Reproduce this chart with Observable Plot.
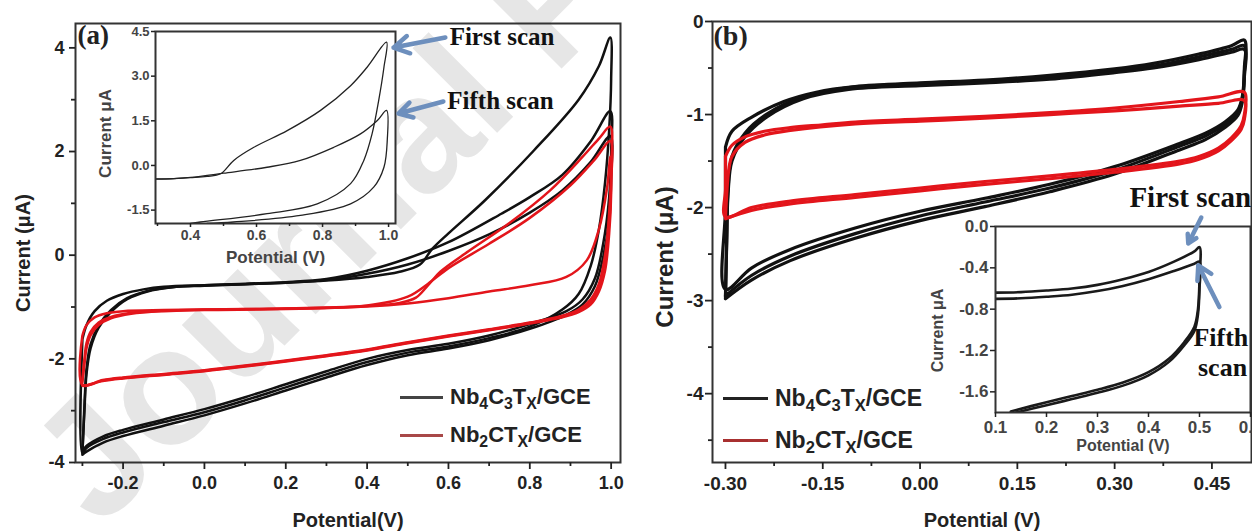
<!DOCTYPE html>
<html><head><meta charset="utf-8">
<script src="https://cdn.jsdelivr.net/npm/d3@7"></script>
<script src="https://cdn.jsdelivr.net/npm/@observablehq/plot@0.6"></script>
<style>
body{margin:0;background:#fff;}
#wrap{position:relative;width:1252px;height:532px;overflow:hidden;background:#fff;font-family:Arial,"Liberation Sans",Helvetica,sans-serif;}
#wrap svg{position:absolute;background:transparent;overflow:visible;max-width:none;}
.leg{position:absolute;display:flex;align-items:center;height:28px;font-weight:bold;color:#222;white-space:nowrap;}
.leg .sw{display:inline-block;height:3px;margin-right:7px;}
.leg sub{font-size:72%;vertical-align:-0.3em;line-height:0;}
</style></head>
<body><div id="wrap"></div>
<script>
// ---------- data: panel (a) main, potential (V) vs current (µA) ----------
const blackA_scan1 = [[-0.30,-1.62],[-0.29,-1.35],[-0.27,-1.08],[-0.24,-0.88],[-0.20,-0.75],[-0.15,-0.66],[-0.10,-0.61],[0.00,-0.58],[0.10,-0.56],[0.20,-0.53],[0.30,-0.49],[0.40,-0.42],[0.48,-0.32],[0.53,-0.18],[0.56,0.12],[0.60,0.42],[0.69,1.06],[0.81,2.02],[0.92,3.00],[0.97,3.65],[0.998,4.20],[1.00,3.40],[0.995,2.40],[0.985,1.40],[0.97,0.50],[0.95,-0.20],[0.92,-0.75],[0.88,-1.05],[0.80,-1.38],[0.70,-1.60],[0.60,-1.76],[0.50,-1.88],[0.40,-2.06],[0.30,-2.30],[0.20,-2.55],[0.10,-2.80],[0.00,-3.03],[-0.10,-3.22],[-0.20,-3.42],[-0.25,-3.55],[-0.29,-3.72],[-0.30,-3.82],[-0.30,-1.62]];
const blackA_scan2 = [[-0.30,-3.78],[-0.295,-3.00],[-0.29,-2.30],[-0.28,-1.80],[-0.26,-1.40],[-0.23,-1.10],[-0.19,-0.85],[-0.14,-0.70],[-0.08,-0.62],[0.00,-0.58],[0.10,-0.55],[0.20,-0.52],[0.30,-0.46],[0.40,-0.30],[0.50,-0.06],[0.60,0.25],[0.73,0.80],[0.80,1.12],[0.88,1.55],[0.95,2.20],[0.998,2.78],[1.00,2.00],[0.995,1.10],[0.98,0.20],[0.96,-0.45],[0.93,-0.85],[0.89,-1.08],[0.80,-1.33],[0.70,-1.55],[0.60,-1.71],[0.50,-1.83],[0.40,-2.00],[0.30,-2.24],[0.20,-2.49],[0.10,-2.74],[0.00,-2.97],[-0.10,-3.17],[-0.20,-3.37],[-0.25,-3.50],[-0.29,-3.68],[-0.30,-3.78]];
const blackA_scan3 = [[-0.30,-3.85],[-0.295,-2.90],[-0.29,-2.20],[-0.28,-1.72],[-0.26,-1.36],[-0.23,-1.06],[-0.19,-0.83],[-0.14,-0.69],[-0.08,-0.62],[0.00,-0.59],[0.10,-0.56],[0.20,-0.53],[0.30,-0.48],[0.40,-0.36],[0.50,-0.18],[0.60,0.08],[0.70,0.40],[0.80,0.82],[0.88,1.25],[0.95,1.80],[0.998,2.30],[1.00,1.50],[0.995,0.70],[0.98,-0.05],[0.96,-0.60],[0.93,-0.95],[0.89,-1.15],[0.80,-1.42],[0.70,-1.64],[0.60,-1.80],[0.50,-1.93],[0.40,-2.12],[0.30,-2.36],[0.20,-2.61],[0.10,-2.86],[0.00,-3.09],[-0.10,-3.29],[-0.20,-3.49],[-0.25,-3.62],[-0.29,-3.79],[-0.30,-3.85]];
const redA_scan1 = [[-0.30,-1.55],[-0.29,-1.35],[-0.27,-1.20],[-0.24,-1.12],[-0.20,-1.08],[-0.10,-1.06],[0.00,-1.05],[0.10,-1.04],[0.20,-1.03],[0.30,-1.01],[0.40,-0.98],[0.48,-0.92],[0.52,-0.82],[0.55,-0.58],[0.58,-0.32],[0.65,0.08],[0.75,0.62],[0.85,1.25],[0.93,1.90],[0.97,2.25],[0.998,2.48],[1.00,1.70],[0.995,0.80],[0.985,0.00],[0.97,-0.55],[0.95,-0.85],[0.92,-1.05],[0.88,-1.17],[0.80,-1.30],[0.70,-1.43],[0.60,-1.55],[0.50,-1.68],[0.40,-1.82],[0.30,-1.93],[0.20,-2.03],[0.10,-2.13],[0.00,-2.22],[-0.10,-2.29],[-0.20,-2.36],[-0.25,-2.41],[-0.30,-2.50],[-0.30,-1.55]];
const redA_scan2 = [[-0.30,-2.45],[-0.295,-2.10],[-0.29,-1.80],[-0.28,-1.55],[-0.26,-1.35],[-0.23,-1.22],[-0.18,-1.13],[-0.10,-1.08],[0.00,-1.06],[0.20,-1.04],[0.40,-0.99],[0.50,-0.93],[0.60,-0.83],[0.70,-0.70],[0.80,-0.58],[0.89,-0.42],[0.94,-0.10],[0.97,0.50],[0.99,1.30],[0.998,1.90],[1.00,1.20],[0.995,0.40],[0.985,-0.30],[0.97,-0.70],[0.95,-0.95],[0.92,-1.10],[0.88,-1.20],[0.80,-1.32],[0.70,-1.45],[0.60,-1.57],[0.50,-1.70],[0.40,-1.84],[0.30,-1.95],[0.20,-2.05],[0.10,-2.15],[0.00,-2.24],[-0.10,-2.31],[-0.20,-2.38],[-0.25,-2.43],[-0.30,-2.52],[-0.30,-2.45]];
const redA_scan3 = [[-0.30,-2.40],[-0.295,-2.00],[-0.29,-1.70],[-0.28,-1.48],[-0.26,-1.30],[-0.23,-1.19],[-0.18,-1.11],[-0.10,-1.07],[0.00,-1.05],[0.20,-1.03],[0.40,-0.97],[0.50,-0.80],[0.55,-0.55],[0.60,-0.25],[0.70,0.22],[0.80,0.72],[0.90,1.35],[0.96,1.85],[0.998,2.20],[1.00,1.40],[0.995,0.60],[0.985,-0.10],[0.97,-0.62],[0.95,-0.90],[0.92,-1.07],[0.88,-1.18],[0.80,-1.31],[0.70,-1.44],[0.60,-1.56],[0.50,-1.69],[0.40,-1.83],[0.30,-1.94],[0.20,-2.04],[0.10,-2.14],[0.00,-2.23],[-0.10,-2.30],[-0.20,-2.37],[-0.25,-2.42],[-0.30,-2.51],[-0.30,-2.40]];

// ---------- data: panel (a) inset ----------
const insetA_first = [[0.294,-0.45],[0.35,-0.44],[0.40,-0.41],[0.45,-0.37],[0.491,-0.28],[0.531,0.17],[0.592,0.61],[0.693,1.17],[0.794,1.85],[0.885,2.68],[0.935,3.30],[0.994,4.14],[0.986,3.30],[0.97,2.18],[0.95,1.06],[0.925,0.17],[0.885,-0.61],[0.784,-1.29],[0.632,-1.62],[0.43,-1.90],[0.40,-1.95]];
const insetA_fifth = [[0.294,-0.46],[0.35,-0.44],[0.40,-0.40],[0.50,-0.26],[0.632,-0.06],[0.733,0.17],[0.834,0.61],[0.915,1.06],[0.966,1.51],[0.994,1.85],[0.996,0.84],[0.986,-0.06],[0.955,-0.73],[0.885,-1.29],[0.733,-1.68],[0.53,-1.90],[0.45,-1.95]];

// ---------- data: panel (b) main ----------
const blackB_scan1 = [[-0.30,-1.35],[-0.29,-1.18],[-0.26,-1.03],[-0.21,-0.86],[-0.16,-0.76],[-0.10,-0.70],[0.00,-0.66],[0.10,-0.63],[0.20,-0.58],[0.30,-0.51],[0.36,-0.45],[0.43,-0.35],[0.48,-0.26],[0.50,-0.20],[0.50,-0.50],[0.497,-0.80],[0.49,-0.95],[0.47,-1.08],[0.44,-1.20],[0.40,-1.31],[0.30,-1.56],[0.20,-1.75],[0.10,-1.90],[0.00,-2.04],[-0.10,-2.22],[-0.20,-2.45],[-0.26,-2.65],[-0.30,-2.88],[-0.30,-2.00],[-0.30,-1.35]];
const blackB_scan2 = [[-0.30,-2.95],[-0.298,-2.30],[-0.296,-1.80],[-0.29,-1.45],[-0.27,-1.20],[-0.235,-0.99],[-0.18,-0.81],[-0.11,-0.71],[0.00,-0.67],[0.10,-0.64],[0.20,-0.60],[0.30,-0.53],[0.36,-0.48],[0.43,-0.38],[0.48,-0.30],[0.50,-0.26],[0.50,-0.55],[0.497,-0.83],[0.49,-0.98],[0.47,-1.11],[0.44,-1.23],[0.40,-1.34],[0.30,-1.60],[0.20,-1.79],[0.10,-1.94],[0.00,-2.09],[-0.10,-2.28],[-0.20,-2.52],[-0.26,-2.73],[-0.30,-2.95]];
const blackB_scan3 = [[-0.30,-2.98],[-0.298,-2.35],[-0.296,-1.85],[-0.29,-1.50],[-0.27,-1.24],[-0.235,-1.02],[-0.18,-0.83],[-0.11,-0.73],[0.00,-0.69],[0.10,-0.66],[0.20,-0.62],[0.30,-0.55],[0.36,-0.50],[0.43,-0.41],[0.48,-0.33],[0.50,-0.30],[0.50,-0.60],[0.497,-0.86],[0.49,-1.01],[0.47,-1.14],[0.44,-1.27],[0.40,-1.38],[0.30,-1.64],[0.20,-1.83],[0.10,-1.99],[0.00,-2.14],[-0.10,-2.33],[-0.20,-2.57],[-0.26,-2.78],[-0.30,-2.98]];
const redB_scan1 = [[-0.30,-1.45],[-0.29,-1.33],[-0.27,-1.24],[-0.24,-1.18],[-0.20,-1.14],[-0.15,-1.11],[-0.10,-1.08],[0.00,-1.05],[0.10,-1.02],[0.20,-0.98],[0.30,-0.93],[0.40,-0.86],[0.46,-0.81],[0.50,-0.76],[0.50,-1.00],[0.495,-1.12],[0.48,-1.25],[0.46,-1.36],[0.43,-1.45],[0.40,-1.50],[0.30,-1.59],[0.20,-1.66],[0.10,-1.72],[0.00,-1.79],[-0.10,-1.86],[-0.20,-1.93],[-0.26,-2.00],[-0.30,-2.10],[-0.30,-1.80],[-0.30,-1.45]];
const redB_scan2 = [[-0.30,-2.12],[-0.298,-1.85],[-0.295,-1.60],[-0.29,-1.45],[-0.27,-1.30],[-0.24,-1.22],[-0.20,-1.17],[-0.10,-1.10],[0.00,-1.07],[0.10,-1.04],[0.20,-1.00],[0.30,-0.96],[0.40,-0.91],[0.46,-0.88],[0.50,-0.85],[0.50,-1.05],[0.495,-1.16],[0.48,-1.28],[0.46,-1.39],[0.43,-1.48],[0.40,-1.53],[0.30,-1.62],[0.20,-1.69],[0.10,-1.75],[0.00,-1.82],[-0.10,-1.89],[-0.20,-1.96],[-0.26,-2.03],[-0.30,-2.12]];

// ---------- data: panel (b) inset ----------
const insetB_first = [[0.10,-0.64],[0.15,-0.635],[0.20,-0.62],[0.25,-0.60],[0.30,-0.565],[0.35,-0.51],[0.40,-0.44],[0.45,-0.34],[0.49,-0.24],[0.50,-0.20],[0.50,-0.50],[0.497,-0.80],[0.49,-0.97],[0.47,-1.12],[0.44,-1.28],[0.40,-1.41],[0.35,-1.51],[0.30,-1.58],[0.25,-1.64],[0.20,-1.70],[0.13,-1.79]];
const insetB_fifth = [[0.10,-0.70],[0.15,-0.695],[0.20,-0.68],[0.25,-0.66],[0.30,-0.625],[0.35,-0.575],[0.40,-0.51],[0.45,-0.43],[0.49,-0.36],[0.50,-0.34],[0.50,-0.60],[0.497,-0.85],[0.49,-1.01],[0.47,-1.15],[0.44,-1.31],[0.40,-1.44],[0.35,-1.54],[0.30,-1.61],[0.25,-1.67],[0.20,-1.73],[0.14,-1.80]];

// ---------- ticks, labels, series ----------
const xMajA = [-0.2,0,0.2,0.4,0.6,0.8,1.0], xMinA = [-0.3,-0.1,0.1,0.3,0.5,0.7,0.9];
const yMajA = [-4,-2,0,2,4], yMinA = [-3,-1,1,3];
const xMajB = [-0.30,-0.15,0,0.15,0.30,0.45], xMinB = [-0.225,-0.075,0.075,0.225,0.375];
const yMajB = [0,-1,-2,-3,-4], yMinB = [-0.5,-1.5,-2.5,-3.5,-4.5];
const xTickInA = [0.4,0.6,0.8,1.0], xMinInA = [0.3,0.5,0.7,0.9], yTickInA = [-1.5,0,1.5,3,4.5];
const xTickInB = [0.1,0.2,0.3,0.4,0.5,0.6], yTickInB = [0,-0.4,-0.8,-1.2,-1.6];
const seriesNames = ["Nb<sub>4</sub>C<sub>3</sub>T<sub>X</sub>/GCE", "Nb<sub>2</sub>CT<sub>X</sub>/GCE"];
const notesA = [{x:1.185, y:4.315, t:"First scan"}, {x:1.178, y:2.18, t:"Fifth scan"}];
const arrowsA = [{x1:1.172, y1:4.30, x2:1.015, y2:3.96}, {x1:1.166, y1:2.15, x2:1.030, y2:1.745}];
const notesB_end = [{x:0.601, y:0.28, t:"First scan"}];
const notesB_start = [{x:0.488, y:-1.08, t:"Fifth"}, {x:0.497, y:-1.37, t:"scan"}];
const arrowsB = [{x1:0.5035, y1:0.087, x2:0.478, y2:-0.164}, {x1:0.539, y1:-0.78, x2:0.4976, y2:-0.376}];
const watermark = "Journal Pre-proof";

// ---------- drawing ----------
const FONT = "Arial, 'Liberation Sans', Helvetica, sans-serif";
const SERIF = "'Times New Roman', 'Liberation Serif', 'DejaVu Serif', serif";
const BLACK = "#111", RED = "#e3151b", AXIS = "#333", ARROW = "#6d8fbd";
const wrap = document.getElementById("wrap");
function place(svg, left, top){ svg.style.left = left+"px"; svg.style.top = top+"px"; wrap.appendChild(svg); }
const lines = (list, color, w, clip) => list.map(arr => Plot.line(arr, {x: d => d[0], y: d => d[1], stroke: color, strokeWidth: w, curve: "catmull-rom", clip: !!clip}));
const f1 = d => d.toFixed(1), f2 = d => d.toFixed(2), f0 = d => String(d);
const blank = () => "";

// faint diagonal watermark behind the charts
const wm = d3.create("svg").attr("width", 1252).attr("height", 532).style("left", "0px").style("top", "0px");
wm.append("text").attr("x", 100).attr("y", 530).attr("transform", "rotate(-45 100 530)")
  .attr("font-family", FONT).attr("font-weight", "bold").attr("font-size", 165).attr("fill", "#e6e6e6").text(watermark);
wrap.appendChild(wm.node());

// Panel (a)
const plotA = Plot.plot({
  width: 640, height: 532, marginLeft: 75, marginRight: 20, marginTop: 23, marginBottom: 70,
  x: {domain: [-0.317, 1.023]}, y: {domain: [-4, 4.47]},
  style: {fontFamily: FONT, fontSize: "18px", fontWeight: "bold", color: "#222", background: "transparent"},
  marks: [
    ...lines([blackA_scan1, blackA_scan2, blackA_scan3], BLACK, 2.5),
    ...lines([redA_scan1, redA_scan2, redA_scan3], RED, 2.5),
    Plot.frame({stroke: AXIS, strokeWidth: 2}),
    Plot.axisX(xMajA, {tickSize: 7, tickPadding: 7, tickFormat: f1, label: null, strokeWidth: 1.8, fontSize: 18, fontWeight: "bold"}),
    Plot.axisX(xMinA, {tickSize: 4, tickFormat: blank, label: null, strokeWidth: 1.8}),
    Plot.axisY(yMajA, {tickSize: 6, tickPadding: 5, tickFormat: f0, label: null, strokeWidth: 1.8, fontSize: 18, fontWeight: "bold"}),
    Plot.axisY(yMinA, {tickSize: 4, tickFormat: blank, label: null, strokeWidth: 1.8}),
    Plot.text(["Current (μA)"], {text: d => d, frameAnchor: "left", rotate: -90, dx: -52, dy: 10, fontSize: 20, fontWeight: "bold", textAnchor: "middle", lineAnchor: "middle"}),
    Plot.text(["Potential(V)"], {text: d => d, frameAnchor: "bottom", dy: 58, fontSize: 20, fontWeight: "bold", textAnchor: "middle", lineAnchor: "middle"}),
    Plot.text(["(a)"], {text: d => d, frameAnchor: "top-left", dx: 2, dy: 1, fontSize: 27, fontWeight: "bold", fontFamily: SERIF, textAnchor: "start", lineAnchor: "top"})
  ]
});
place(plotA, 0, 0);

// Panel (a) inset
const insetA = Plot.plot({
  width: 500, height: 280, marginLeft: 60, marginRight: 200, marginTop: 31, marginBottom: 57,
  x: {domain: [0.294, 1.021]}, y: {domain: [-1.95, 4.5]},
  style: {fontFamily: FONT, fontSize: "13px", fontWeight: "bold", color: "#222", background: "transparent"},
  marks: [
    Plot.frame({fill: "white", stroke: "none"}),
    ...lines([insetA_first, insetA_fifth], "#222", 1.3, true),
    Plot.frame({stroke: AXIS, strokeWidth: 2}),
    Plot.axisX(xTickInA, {tickSize: 4, tickPadding: 3, tickFormat: f1, label: null, strokeWidth: 1.5, fontSize: 14, fontWeight: "bold", fill: "#444"}),
    Plot.axisX(xMinInA, {tickSize: 3, tickFormat: blank, label: null, strokeWidth: 1.5}),
    Plot.axisY(yTickInA, {tickSize: 4, tickPadding: 2, tickFormat: f1, label: null, strokeWidth: 1.5, fontSize: 13, fontWeight: "bold", fill: "#444"}),
    Plot.text(["Current μA"], {text: d => d, frameAnchor: "left", rotate: -90, dx: -50, dy: 6, fontSize: 17, fontWeight: "bold", fill: "#444", textAnchor: "middle", lineAnchor: "middle"}),
    Plot.text(["Potential (V)"], {text: d => d, frameAnchor: "bottom", dy: 34, fontSize: 17, fontWeight: "bold", fill: "#444", textAnchor: "middle", lineAnchor: "middle"}),
    Plot.arrow(arrowsA, {x1: "x1", y1: "y1", x2: "x2", y2: "y2", stroke: ARROW, strokeWidth: 4.5, headLength: 12}),
    Plot.text(notesA, {x: "x", y: "y", text: "t", textAnchor: "start", lineAnchor: "middle", fontFamily: SERIF, fontSize: 25, fontWeight: "bold", fill: "#111"})
  ]
});
place(insetA, 95, 0);

// Panel (b)
const plotB = Plot.plot({
  width: 612, height: 532, marginLeft: 72, marginRight: 1, marginTop: 21, marginBottom: 70,
  x: {domain: [-0.320, 0.511]}, y: {domain: [-4.74, 0]},
  style: {fontFamily: FONT, fontSize: "19px", fontWeight: "bold", color: "#222", background: "transparent"},
  marks: [
    ...lines([blackB_scan1, blackB_scan2, blackB_scan3], BLACK, 3.2),
    ...lines([redB_scan1, redB_scan2], RED, 3.2),
    Plot.frame({stroke: AXIS, strokeWidth: 2}),
    Plot.axisX(xMajB, {tickSize: 7, tickPadding: 7, tickFormat: f2, label: null, strokeWidth: 1.8, fontSize: 19, fontWeight: "bold"}),
    Plot.axisX(xMinB, {tickSize: 4, tickFormat: blank, label: null, strokeWidth: 1.8}),
    Plot.axisY(yMajB, {tickSize: 7, tickPadding: 2, tickFormat: f0, label: null, strokeWidth: 1.8, fontSize: 19, fontWeight: "bold"}),
    Plot.axisY(yMinB, {tickSize: 4, tickFormat: blank, label: null, strokeWidth: 1.8}),
    Plot.text(["Current (μA)"], {text: d => d, frameAnchor: "left", rotate: -90, dx: -47, dy: 15, fontSize: 24, fontWeight: "bold", textAnchor: "middle", lineAnchor: "middle"}),
    Plot.text(["Potential (V)"], {text: d => d, frameAnchor: "bottom", dy: 58, fontSize: 20, fontWeight: "bold", textAnchor: "middle", lineAnchor: "middle"}),
    Plot.text(["(b)"], {text: d => d, frameAnchor: "top-left", dx: 1, dy: 4, fontSize: 28, fontWeight: "bold", fontFamily: SERIF, textAnchor: "start", lineAnchor: "top"})
  ]
});
place(plotB, 640, 0);

// Panel (b) inset
const insetB = Plot.plot({
  width: 352, height: 320, marginLeft: 95, marginRight: 2, marginTop: 66, marginBottom: 68,
  x: {domain: [0.1, 0.6]}, y: {domain: [-1.8, 0]},
  style: {fontFamily: FONT, fontSize: "16px", fontWeight: "bold", color: "#222", background: "transparent"},
  marks: [
    Plot.frame({fill: "white", stroke: "none"}),
    ...lines([insetB_first, insetB_fifth], "#1a1a1a", 2.6, true),
    Plot.frame({stroke: AXIS, strokeWidth: 2}),
    Plot.axisX(xTickInB, {tickSize: 5, tickPadding: 3, tickFormat: f1, label: null, strokeWidth: 1.5, fontSize: 17, fontWeight: "bold", fill: "#444"}),
    Plot.axisY(yTickInB, {tickSize: 5, tickPadding: 2, tickFormat: f1, label: null, strokeWidth: 1.5, fontSize: 17, fontWeight: "bold", fill: "#444"}),
    Plot.text(["Current μA"], {text: d => d, frameAnchor: "left", rotate: -90, dx: -58, dy: 11, fontSize: 16, fontWeight: "bold", fill: "#444", textAnchor: "middle", lineAnchor: "middle"}),
    Plot.text(["Potential (V)"], {text: d => d, frameAnchor: "bottom", dy: 33, fontSize: 16, fontWeight: "bold", fill: "#444", textAnchor: "middle", lineAnchor: "middle"}),
    Plot.arrow(arrowsB, {x1: "x1", y1: "y1", x2: "x2", y2: "y2", stroke: ARROW, strokeWidth: 4.5, headLength: 12}),
    Plot.text(notesB_end, {x: "x", y: "y", text: "t", textAnchor: "end", lineAnchor: "middle", fontFamily: SERIF, fontSize: 29, fontWeight: "bold", fill: "#111"}),
    Plot.text(notesB_start, {x: "x", y: "y", text: "t", textAnchor: "start", lineAnchor: "middle", fontFamily: SERIF, fontSize: 26, fontWeight: "bold", fill: "#111"})
  ]
});
place(insetB, 900, 160);

// Legends (HTML, with subscripts)
function legend(left, top, names, colors, size, swW){
  names.forEach((n, i) => {
    const d = document.createElement("div");
    d.className = "leg";
    d.style.left = left+"px"; d.style.top = (top[i]-14)+"px"; d.style.fontSize = size+"px";
    d.innerHTML = `<span class="sw" style="width:${swW}px;background:${colors[i]}"></span><span>${n}</span>`;
    wrap.appendChild(d);
  });
}
legend(400, [397, 435], seriesNames, ["#444", "#a84848"], 22, 43);
legend(723, [398, 440], seriesNames, ["#222", "#a83030"], 23, 45);
</script></body></html>
